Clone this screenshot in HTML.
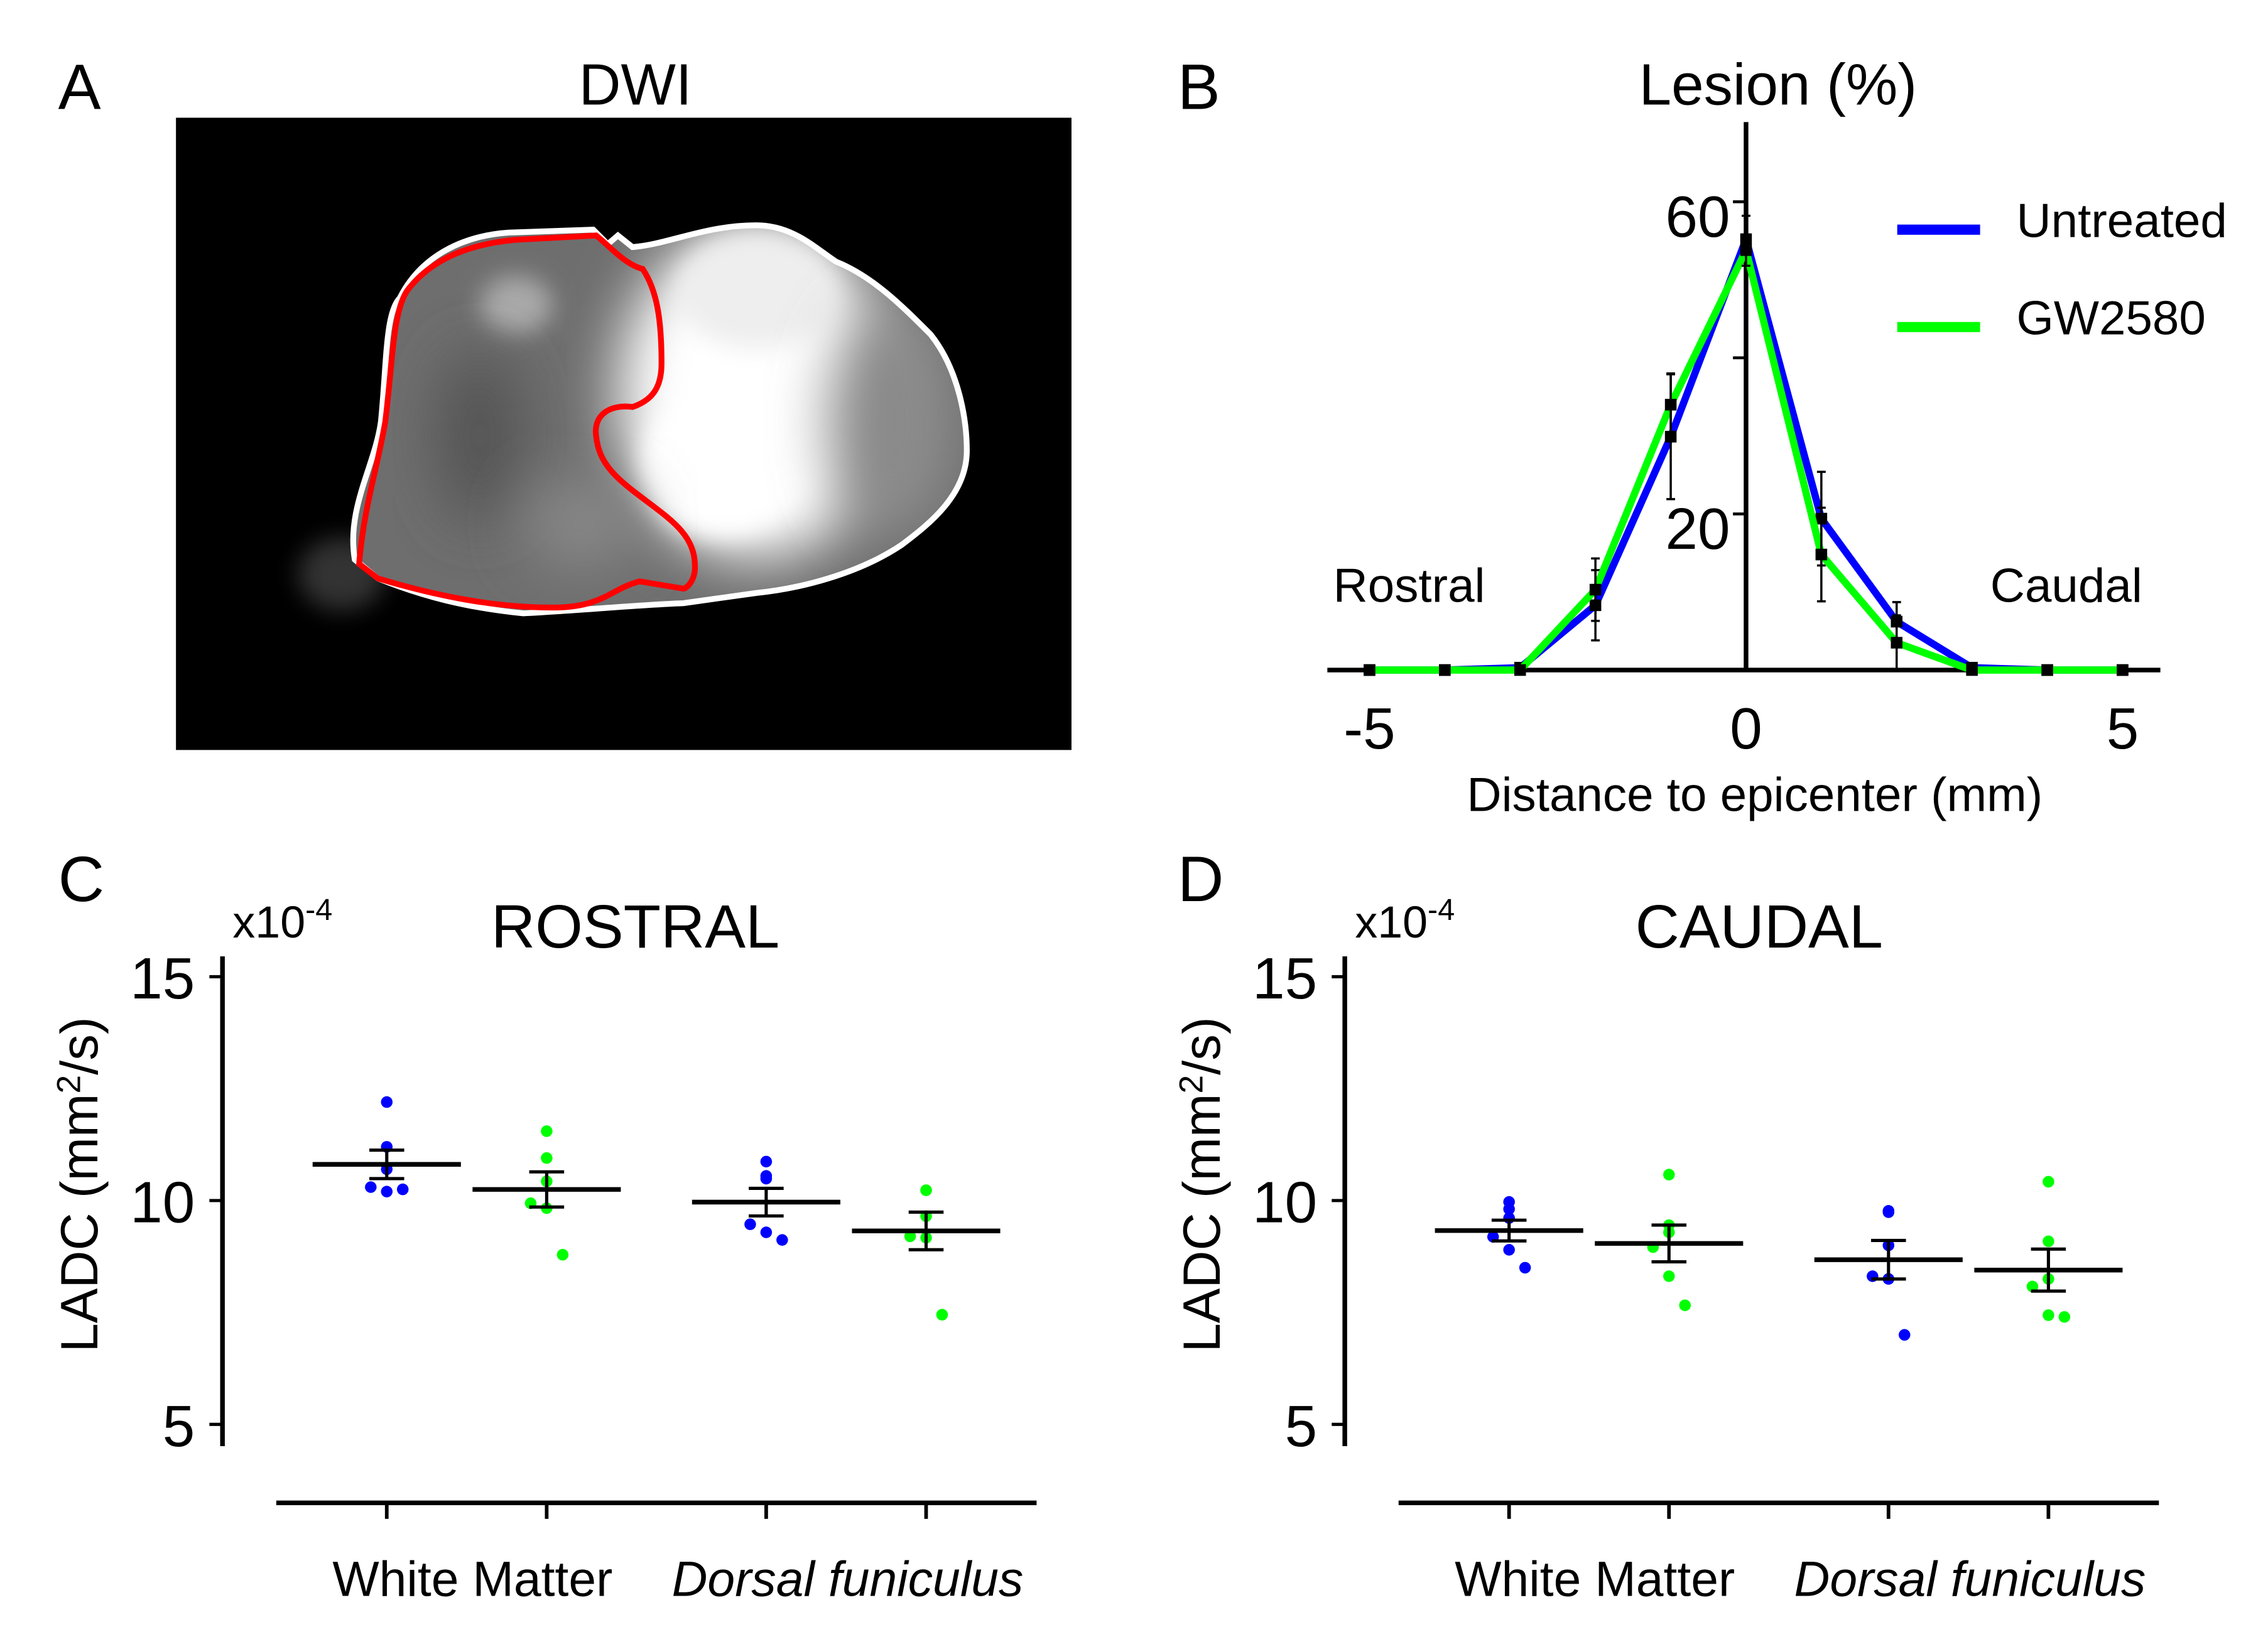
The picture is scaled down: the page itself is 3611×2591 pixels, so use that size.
<!DOCTYPE html>
<html><head><meta charset="utf-8">
<style>
html,body{margin:0;padding:0;background:#fff;}
svg{display:block;}
text{font-family:"Liberation Sans",Arial,sans-serif;fill:#000;}
</style></head>
<body>
<svg id="fig" xmlns="http://www.w3.org/2000/svg" width="3611" height="2591" viewBox="0 0 1560 1119.4">
<defs>
  <filter id="blur8" x="-50%" y="-50%" width="200%" height="200%"><feGaussianBlur stdDeviation="8"/></filter>
  <filter id="blur20" x="-50%" y="-50%" width="200%" height="200%"><feGaussianBlur stdDeviation="20"/></filter>
  <clipPath id="blobclip"><path d="M244,385 C238,350 258,320 262,290 C266,250 265,215 275,205 C290,175 320,162 350,160 L408,158 L418,168 L425,162 L435,170 C460,168 485,155 520,155 C545,155 560,170 575,180 C600,190 620,210 640,230 C660,255 665,290 665,310 C665,340 640,360 620,375 C590,395 550,405 520,408 L470,415 C440,416 400,420 360,422 C320,418 290,410 260,398 Z"/></clipPath>
</defs>

<!-- Panel A -->
<g>
  <text x="40" y="75" font-size="44">A</text>
  <text x="437" y="72" font-size="40" text-anchor="middle">DWI</text>
  <rect x="121" y="81" width="616" height="435" fill="#000"/>
  <g>
    <ellipse cx="235" cy="395" rx="30" ry="25" fill="#555" opacity="0.6" filter="url(#blur8)"/>
    <g clip-path="url(#blobclip)">
      <rect x="230" y="150" width="450" height="280" fill="#6e6e6e"/>
      <ellipse cx="520" cy="270" rx="95" ry="115" fill="#fff" filter="url(#blur20)"/>
      <ellipse cx="495" cy="320" rx="55" ry="50" fill="#fff" filter="url(#blur8)"/>
      <ellipse cx="520" cy="200" rx="55" ry="40" fill="#eee" filter="url(#blur8)"/>
      <ellipse cx="615" cy="290" rx="45" ry="80" fill="#8a8a8a" filter="url(#blur20)"/>
      <ellipse cx="355" cy="210" rx="25" ry="20" fill="#aaa" filter="url(#blur8)"/>
      <ellipse cx="330" cy="300" rx="30" ry="60" fill="#555" filter="url(#blur20)"/>
      <ellipse cx="400" cy="360" rx="40" ry="30" fill="#888" filter="url(#blur20)"/>
    </g>
    <path d="M244,385 C238,350 258,320 262,290 C266,250 265,215 275,205 C290,175 320,162 350,160 L408,158 L418,168 L425,162 L435,170 C460,168 485,155 520,155 C545,155 560,170 575,180 C600,190 620,210 640,230 C660,255 665,290 665,310 C665,340 640,360 620,375 C590,395 550,405 520,408 L470,415 C440,416 400,420 360,422 C320,418 290,410 260,398 Z" fill="none" stroke="#fff" stroke-width="4"/>
    <path d="M247,388 C250,350 260,320 265,290 C270,250 270,215 280,200 C295,180 320,168 355,165 L410,162 C420,170 430,182 442,185 C452,200 455,220 455,250 C455,265 450,275 435,280 C420,278 408,285 410,300 C412,320 425,330 445,345 C465,360 478,370 478,390 C478,400 472,405 470,405 L440,400 C420,405 415,418 380,418 C340,418 300,410 260,398 Z" fill="none" stroke="#f00" stroke-width="4"/>
  </g>
</g>

<!-- Panel B -->
<g id="panelB">
  <text x="810" y="75" font-size="44">B</text>
  <text x="1223" y="72" font-size="40" text-anchor="middle">Lesion (%)</text>
  <text x="917" y="414" font-size="33">Rostral</text>
  <text x="1369" y="414" font-size="33">Caudal</text>
  <text x="1207" y="558" font-size="33" text-anchor="middle">Distance to epicenter (mm)</text>
  <g>
    <line x1="1305" y1="158" x2="1362" y2="158" stroke="#0000ff" stroke-width="7"/>
    <text x="1387" y="163" font-size="33">Untreated</text>
    <line x1="1305" y1="225" x2="1362" y2="225" stroke="#00ff00" stroke-width="7"/>
    <text x="1387" y="230" font-size="33">GW2580</text>
  </g>
</g>

<!-- Panel C / D static -->
<g>
  <text x="40" y="620" font-size="44">C</text>
  <text x="437" y="652" font-size="42" text-anchor="middle">ROSTRAL</text>
</g>
<g>
  <text x="810" y="620" font-size="44">D</text>
  <text x="1210" y="652" font-size="42" text-anchor="middle">CAUDAL</text>
</g>
</svg>

<script>
// ---------- Panel B data ----------
const distances = [-5,-4,-3,-2,-1,0,1,2,3,4,5];
const untreatedLesion = [0,0,0.3,8.3,29.9,55.2,19.4,6.2,0.3,0,0];
const untreatedSem = [0,0,0,4.5,8,3,6,2.5,0,0,0];
const gwLesion = [0,0,0,10.3,34,53.8,14.8,3.5,0,0,0];
const gwSem = [0,0,0,4,4,2,6,3.5,0,0,0];
const bYTicks = [20,40,60];
const bYTickLabels = ["20","","60"];
const bXTicks = [-5,0,5];

// ---------- Panel C/D data ----------
const groups = ["White Matter untreated","White Matter GW2580","Dorsal funiculus untreated","Dorsal funiculus GW2580"];
const rostralWMUntreated = [12.2,11.2,10.7,10.3,10.2,10.25];
const rostralWMGW = [11.55,10.95,10.43,9.94,9.83,8.79];
const rostralDFUntreated = [10.87,10.55,10.49,9.47,9.29,9.12];
const rostralDFGW = [10.23,10.23,9.65,9.2,9.17,7.45];
const caudalWMUntreated = [9.97,9.81,9.61,9.19,8.9,8.5];
const caudalWMGW = [10.58,9.45,9.29,8.96,8.31,7.66];
const caudalDFUntreated = [9.77,9.74,9.0,8.31,8.25,7.0];
const caudalDFGW = [10.42,9.09,8.25,8.08,7.44,7.4];
const ladcTicks = [5,10,15];

const NS = "http://www.w3.org/2000/svg";
const svg = document.getElementById('fig');
function mk(tag, attrs, parent){
  const e = document.createElementNS(NS, tag);
  for (const k in attrs) e.setAttribute(k, attrs[k]);
  (parent||svg).appendChild(e);
  return e;
}

// ----- Panel B drawing -----
const bx = d => 1201 + d*51.8;
const by = v => 461 - v*5.37;
const gB = document.getElementById('panelB');
let ax = mk('line',{x1:913,y1:by(0),x2:1486,y2:by(0),stroke:'#000','stroke-width':3.2},gB);


let ay = mk('line',{x1:bx(0),y1:84,x2:bx(0),y2:by(0),stroke:'#000','stroke-width':3.2},gB);


bYTicks.forEach((t,i)=>{
  const l = mk('line',{x1:bx(0)-9,y1:by(t),x2:bx(0),y2:by(t),stroke:'#000','stroke-width':2},gB);
  
  
  if (bYTickLabels[i]) {
    const tx = mk('text',{x:bx(0)-11,y:by(t)+24,'font-size':40,'text-anchor':'end'},gB);
    tx.textContent = bYTickLabels[i];
    
    
  }
});
bXTicks.forEach(t=>{
  const tx = mk('text',{x:bx(t),y:515,'font-size':40,'text-anchor':'middle'},gB);
  tx.textContent = t<0 ? '-'+Math.abs(t) : String(t);
  
  
});
function series(vals, sem, color, name){
  const pts = distances.map((d,i)=>bx(d)+','+by(vals[i])).join(' ');
  const pl = mk('polyline',{points:pts,fill:'none',stroke:color,'stroke-width':5,'stroke-linejoin':'round'},gB);
  
  
  distances.forEach((d,i)=>{
    if (sem[i]>0){
      const x = bx(d), y1 = by(Math.max(0,vals[i]-sem[i])), y2 = by(vals[i]+sem[i]);
      const e = mk('path',{d:`M${x},${y1}V${y2}M${x-3},${y2}H${x+3}M${x-3},${y1}H${x+3}`,stroke:'#000','stroke-width':1.5,fill:'none'},gB);
      
      
    }
    const m = mk('rect',{x:bx(d)-4,y:by(vals[i])-4,width:8,height:8,fill:'#000'},gB);
    
    
  });
}
series(untreatedLesion, untreatedSem, '#0000ff', 'untreated');
series(gwLesion, gwSem, '#00ff00', 'gw2580');

// ----- Panel C/D drawing -----
const jitter = [0,0,0,-11,0,11];
function scatterPanel(ox, data, prefix){
  const g = mk('g',{});
  
  
  const yv = v => 826 - (v-10)*30.8;
  const centers = [266,376,527,637].map(c=>c+ox);
  const colors = ['#0000ff','#00ff00','#0000ff','#00ff00'];
  const yl = mk('line',{x1:153+ox,y1:658,x2:153+ox,y2:995,stroke:'#000','stroke-width':3.2},g);
  
  
  ladcTicks.forEach(t=>{
    const l = mk('line',{x1:144+ox,y1:yv(t),x2:153+ox,y2:yv(t),stroke:'#000','stroke-width':2.2},g);
    
    
    const tx = mk('text',{x:134+ox,y:yv(t)+15,'font-size':40,'text-anchor':'end'},g);
    tx.textContent = String(t);
    
    
  });
  const sc = mk('text',{x:160+ox,y:645,'font-size':31},g);
  sc.innerHTML = 'x10<tspan font-size="21" dy="-12">-4</tspan>';
  
  
  const ylab = mk('text',{x:0,y:0,'font-size':36,'text-anchor':'middle',transform:`translate(${67+ox},815) rotate(-90)`},g);
  ylab.innerHTML = 'LADC (mm<tspan font-size="23" dy="-12">2</tspan><tspan dy="12">/s)</tspan>';
  
  
  const xl = mk('line',{x1:190+ox,y1:1034,x2:713+ox,y2:1034,stroke:'#000','stroke-width':3.2},g);
  
  
  centers.forEach(c=>{
    const t = mk('line',{x1:c,y1:1034,x2:c,y2:1045,stroke:'#000','stroke-width':2.5},g);
    
    
  });
  const l1 = mk('text',{x:325+ox,y:1098,'font-size':34,'text-anchor':'middle'},g);
  l1.textContent = 'White Matter';
  
  
  const l2 = mk('text',{x:583+ox,y:1098,'font-size':34,'text-anchor':'middle','font-style':'italic'},g);
  l2.textContent = 'Dorsal funiculus';
  
  
  data.forEach((vals,gi)=>{
    const c = centers[gi];
    vals.forEach((v,i)=>{
      const d = mk('circle',{cx:c+jitter[i],cy:yv(v),r:4,fill:colors[gi]},g);
      
      
    });
    const n = vals.length;
    const mean = vals.reduce((a,b)=>a+b,0)/n;
    const sd = Math.sqrt(vals.reduce((a,b)=>a+(b-mean)*(b-mean),0)/(n-1));
    const sem = sd/Math.sqrt(n);
    const ml = mk('line',{x1:c-51,y1:yv(mean),x2:c+51,y2:yv(mean),stroke:'#000','stroke-width':3.2},g);
    
    
    const e = mk('path',{d:`M${c},${yv(mean-sem)}V${yv(mean+sem)}M${c-12},${yv(mean+sem)}H${c+12}M${c-12},${yv(mean-sem)}H${c+12}`,stroke:'#000','stroke-width':2.2,fill:'none'},g);
    
    
  });
}
scatterPanel(0,[rostralWMUntreated,rostralWMGW,rostralDFUntreated,rostralDFGW],'rostral');
scatterPanel(772,[caudalWMUntreated,caudalWMGW,caudalDFUntreated,caudalDFGW],'caudal');
</script>
</body></html>
